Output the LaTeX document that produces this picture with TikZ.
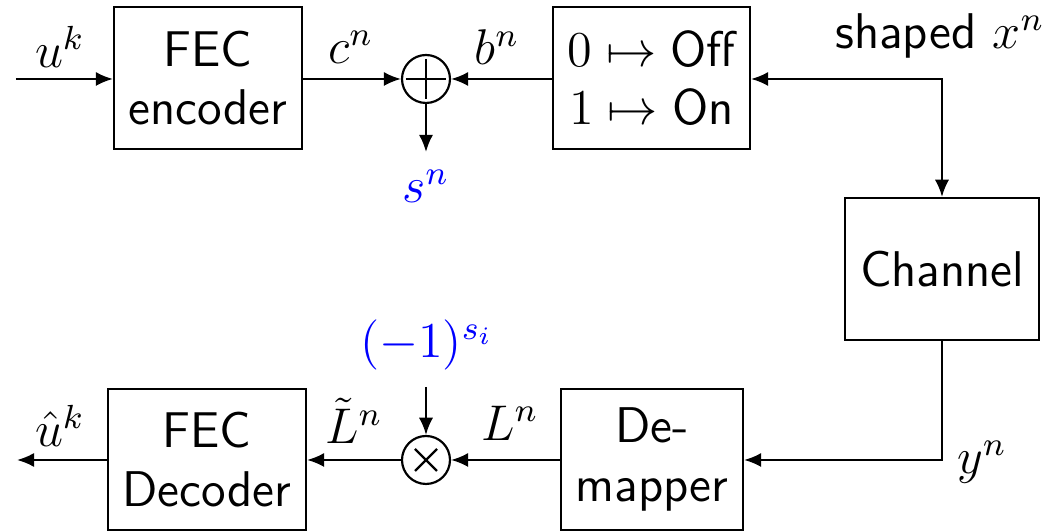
\documentclass[tikz,border=0pt]{standalone}
\usetikzlibrary{arrows.meta}
\begin{document}
\begin{tikzpicture}[x=0.239pt,y=-0.239pt,font=\large\sffamily,line width=0.52pt,
  box/.style={draw,align=center,inner sep=0pt},
  arr/.style={-{Latex[length=4.1pt,width=3.4pt]}},
  darr/.style={{Latex[length=4.1pt,width=3.4pt]}-{Latex[length=4.1pt,width=3.4pt]}},
  op/.style={draw,circle,minimum size=11.47pt,inner sep=0pt},
  lbl/.style={inner sep=0pt},
  hl/.style={text=blue}]
\useasboundingbox (0,0) rectangle (1058,531);
% blocks
\node[box,minimum width=44.93pt,minimum height=33.94pt] (enc) at (208,78) {FEC\\encoder};
\node[box,minimum width=47.08pt,minimum height=33.94pt] (map) at (651.5,78) {$0\mapsto{}$Off\\$1\mapsto{}$On};
\node[box,minimum width=46.37pt,minimum height=33.94pt] (chan) at (942,269) {Channel};
\node[box,minimum width=43.5pt,minimum height=33.7pt] (dem) at (652,459.5) {De-\\mapper};
\node[box,minimum width=47.32pt,minimum height=33.7pt] (dec) at (207,459.5) {FEC\\Decoder};
% operators
\node[op] (sum) at (426,79) {};
\draw (sum.center) ++(-20,0) -- ++(40,0);
\draw (sum.center) ++(0,-20) -- ++(0,40);
\node[op] (mul) at (426,460) {};
\draw (mul.center) ++(-11,-11) -- ++(22,22);
\draw (mul.center) ++(-11,11) -- ++(22,-22);
% free ends
\coordinate (in) at (16,79);
\coordinate (out) at (17,460);
\coordinate (sout) at (426,152);
\node[lbl,hl] (sn) at (426,186) {$s^n$};
\node[lbl,hl] (sgn) at (427,345) {$(-1)^{s_i}$};
\coordinate (sgnend) at (426,387);
% labels
\node[lbl] (lu) at (60,47) {$u^k$};
\node[lbl] (lc) at (351,47) {$c^n$};
\node[lbl] (lb) at (497,47) {$b^n$};
\node[lbl] (lx) at (940,36) {shaped $x^n$};
\node[lbl] (ly) at (982,462) {$y^n$};
\node[lbl] (lL) at (510,423) {$L^n$};
\node[lbl] (lLt) at (354,421) {$\tilde{L}^n$};
\node[lbl] (luh) at (60,426) {$\hat{u}^k$};
% connectors
\draw[arr] (in) -- (enc.west |- in);
\draw[arr] (enc.east |- sum) -- (sum.west);
\draw[arr] (map.west |- sum) -- (sum.east);
\draw[arr] (sum.south) -- (sout);
\draw[darr] (map.east |- sum) -| (chan.north);
\draw[arr] (chan.south) |- (dem.east |- mul);
\draw[arr] (dem.west |- mul) -- (mul.east);
\draw[arr] (sgnend) -- (mul.north);
\draw[arr] (mul.west) -- (dec.east |- mul);
\draw[arr] (dec.west |- mul) -- (out);
\end{tikzpicture}
\end{document}
